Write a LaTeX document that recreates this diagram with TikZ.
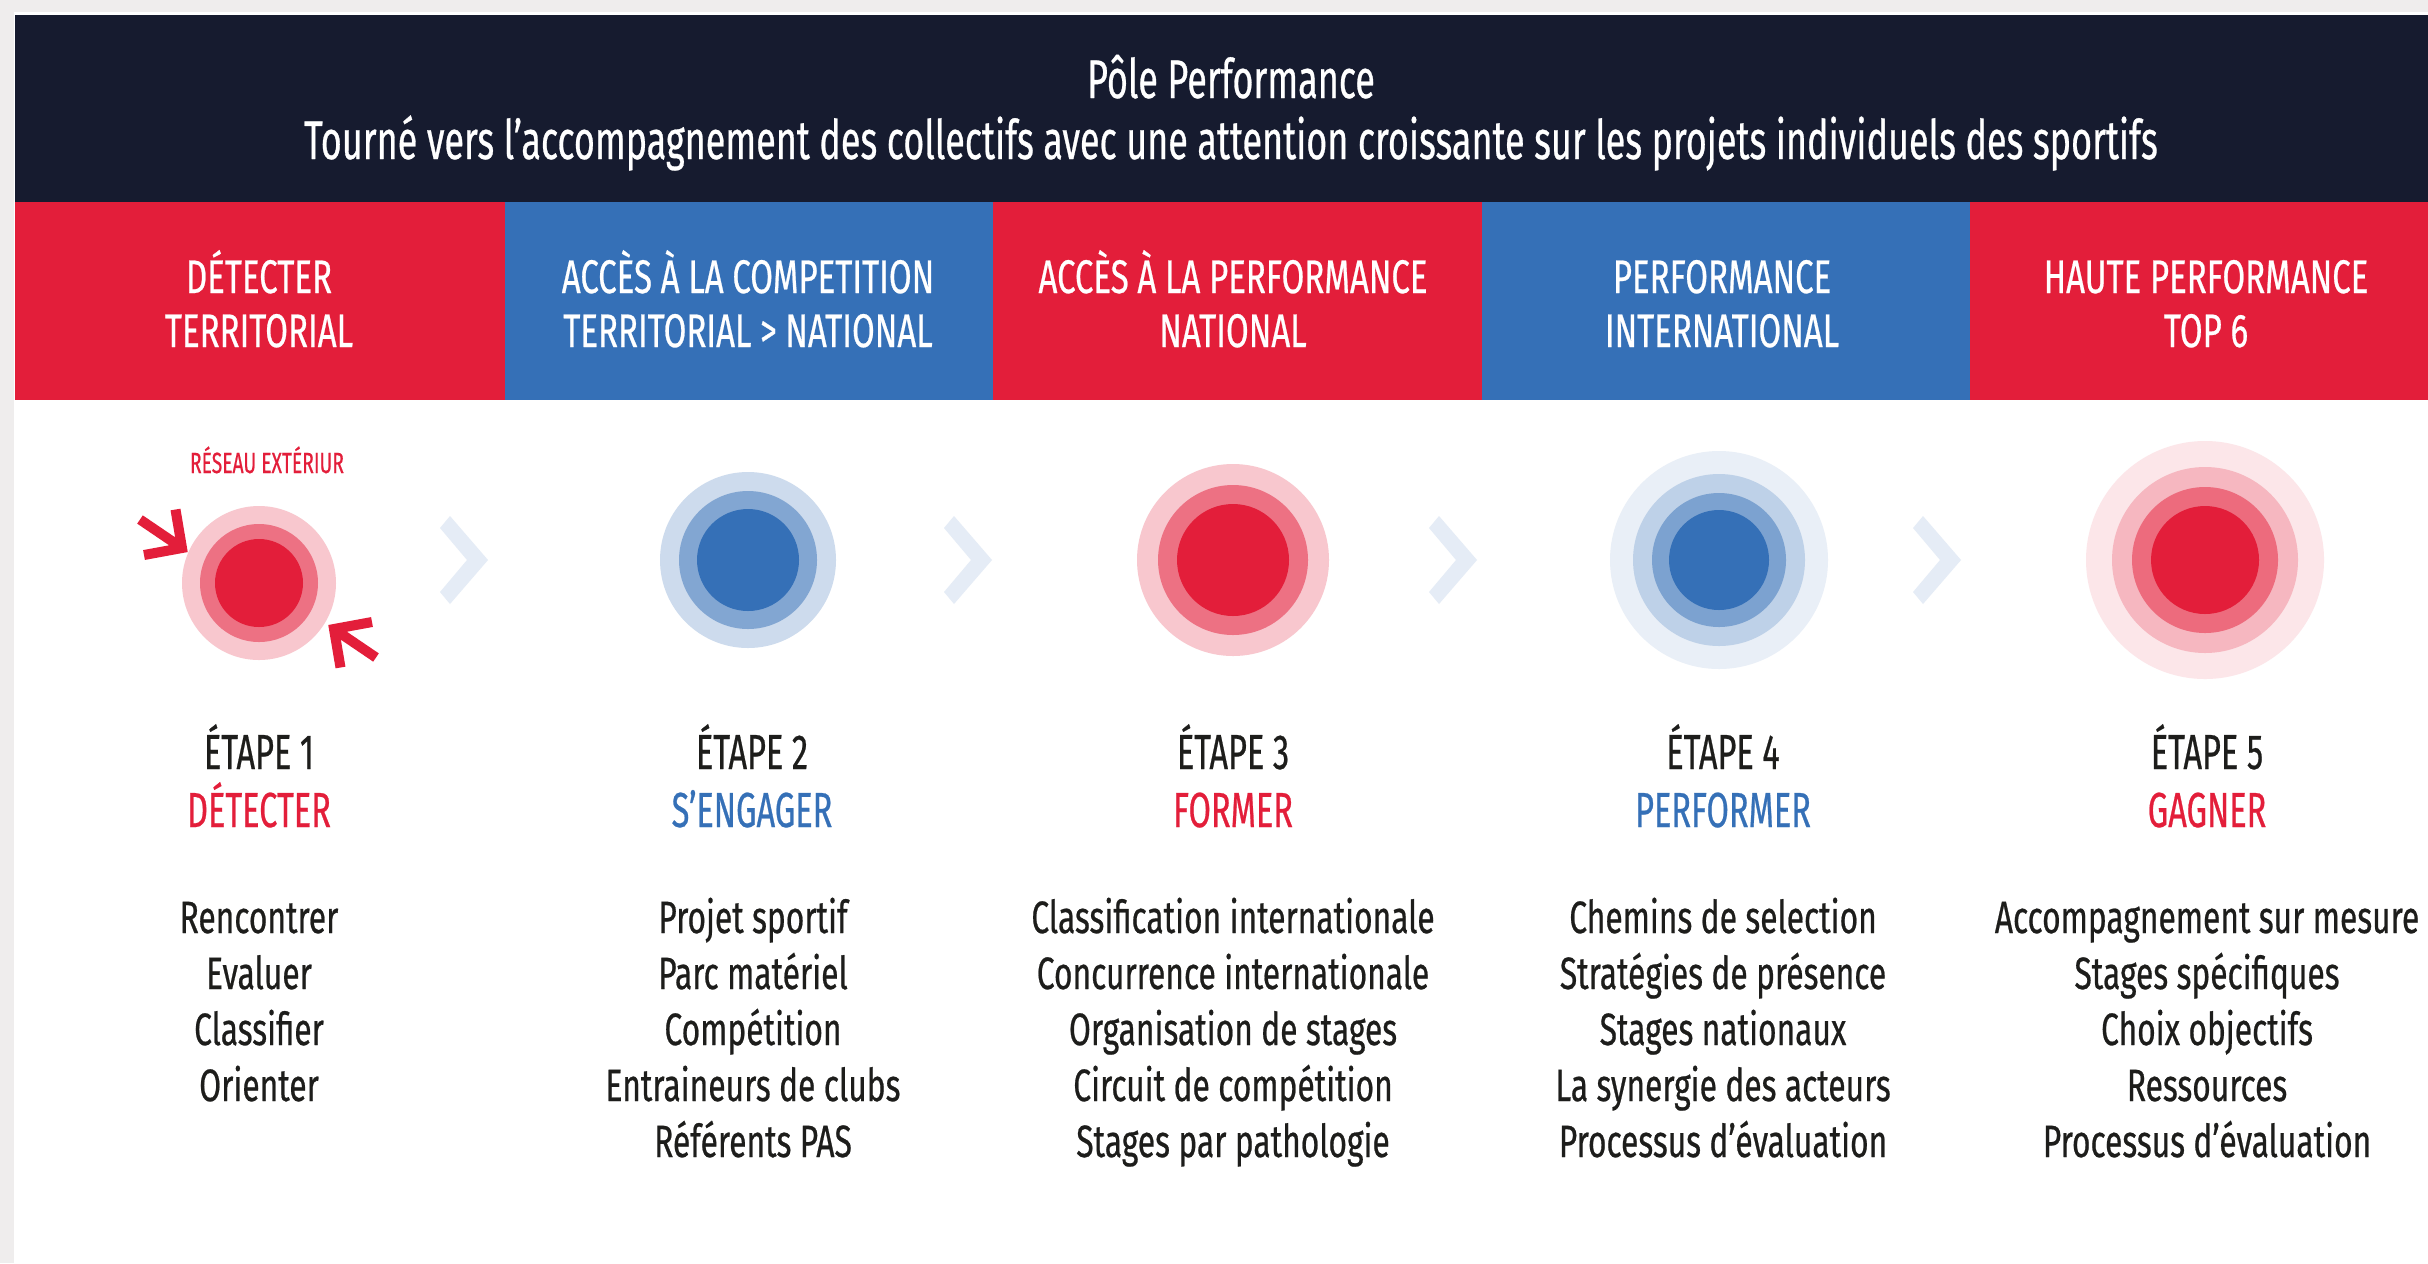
\documentclass[tikz,border=0pt]{standalone}
\usepackage{fontspec}
\setmainfont{Fira Sans}[FakeStretch=0.66, FakeBold=0.5]
\newfontfamily\widefont{Fira Sans}[FakeStretch=0.70, FakeBold=0.5]
\definecolor{navy}{HTML}{161B2F}
\definecolor{fred}{HTML}{E31E3A}
\definecolor{fblue}{HTML}{3570B7}
\definecolor{pagegrey}{HTML}{EFEDED}
\definecolor{ink}{HTML}{1D1D1B}
\tikzset{
  titletext/.style={anchor=base, text=white, font=\fontsize{15.5}{17}\selectfont},
  hdr/.style={anchor=base, text=white, font=\widefont\fontsize{13.4}{15}\selectfont},
  etape/.style={anchor=base, text=ink, font=\fontsize{14}{16}\selectfont},
  item/.style={anchor=base, text=ink, font=\widefont\fontsize{12.9}{15}\selectfont},
  chev/.style={fill=fblue!13},
  reach/.style={draw=fred, line width=1mm, miter limit=4}
}

\begin{document}
\begin{tikzpicture}[x=0.01cm,y=-0.01cm]
  \useasboundingbox (0,0) rectangle (2428,1263);
  % page and title band
  \fill[pagegrey] (0,0) rectangle (2428,1263);
  \fill[white] (14,12) rectangle (2428,1263);
  \fill[navy] (15,15) rectangle (2428,202);
  \node[titletext] (t1) at (1231,98) {Pôle Performance};
  \node[titletext] (t2) at (1231,159) {Tourné vers l’accompagnement des collectifs avec une attention croissante sur les projets individuels des sportifs};

  % level bands
  \foreach \xa/\xb/\col/\x/\ha/\hb [count=\n] in {
      15/505/fred/259/DÉTECTER/TERRITORIAL,
      505/993/fblue/748/ACCÈS À LA COMPETITION/TERRITORIAL > NATIONAL,
      993/1482/fred/1233/ACCÈS À LA PERFORMANCE/NATIONAL,
      1482/1970/fblue/1722/PERFORMANCE/INTERNATIONAL,
      1970/2428/fred/2206/HAUTE PERFORMANCE/TOP 6}{
    \fill[\col] (\xa,202) rectangle (\xb,400);
    \node[hdr] (h\n a) at (\x,293) {\ha};
    \node[hdr] (h\n b) at (\x,347) {\hb};
  }

  % chevrons between the steps
  \foreach \l in {440,944,1429,1913}
    \fill[chev] ({\l+10},516) -- ({\l+48},560) -- ({\l+10},604) -- (\l,592) -- ({\l+27},560) -- (\l,528) -- cycle;

  % target circles
  \foreach \r/\p in {77/25, 59/63, 44/100} \fill[fred!\p] (259,583) circle (\r);
  \foreach \r/\p in {88/25, 69/62, 51/100} \fill[fblue!\p] (748,560) circle (\r);
  \foreach \r/\p in {96/25, 75/63, 56/100} \fill[fred!\p] (1233,560) circle (\r);
  \foreach \r/\p in {109/11, 86/32, 67/65, 50/100} \fill[fblue!\p] (1719,560) circle (\r);
  \foreach \r/\p in {119/11, 93/32, 73/66, 54/100} \fill[fred!\p] (2205,560) circle (\r);

  % outside network arrows
  \node[anchor=base, text=fred, font=\fontsize{8.3}{10}\selectfont] (reseau) at (267,473) {RÉSEAU EXTÉRIUR};
  \draw[reach] (140,519.5) -- (182,548) (175.5,509.5) -- (182,548) -- (144,555);
  \draw[reach] (376,657.5) -- (334,629) (340.5,667.5) -- (334,629) -- (372,622);

  % steps
  \foreach \x/\col/\vb [count=\n] in {259/fred/DÉTECTER, 752/fblue/S’ENGAGER,
      1233/fred/FORMER, 1723/fblue/PERFORMER, 2207/fred/GAGNER}{
    \node[etape] (e\n) at (\x,769) {ÉTAPE \n};
    \node[etape, text=\col] (v\n) at (\x,827) {\vb};
  }
  \foreach \t [count=\k] in {Rencontrer, Evaluer, Classifier, Orienter}
    \node[item] (i1-\k) at (259,{877+56*\k}) {\t};
  \foreach \t [count=\k] in {Projet sportif, Parc matériel, Compétition, Entraineurs de clubs, Référents PAS}
    \node[item] (i2-\k) at (753,{877+56*\k}) {\t};
  \foreach \t [count=\k] in {Classification internationale, Concurrence internationale, Organisation de stages, Circuit de compétition, Stages par pathologie}
    \node[item] (i3-\k) at (1233,{877+56*\k}) {\t};
  \foreach \t [count=\k] in {Chemins de selection, Stratégies de présence, Stages nationaux, La synergie des acteurs, Processus d’évaluation}
    \node[item] (i4-\k) at (1723,{877+56*\k}) {\t};
  \foreach \t [count=\k] in {Accompagnement sur mesure, Stages spécifiques, Choix objectifs, Ressources, Processus d’évaluation}
    \node[item] (i5-\k) at (2207,{877+56*\k}) {\t};
\end{tikzpicture}
\end{document}
